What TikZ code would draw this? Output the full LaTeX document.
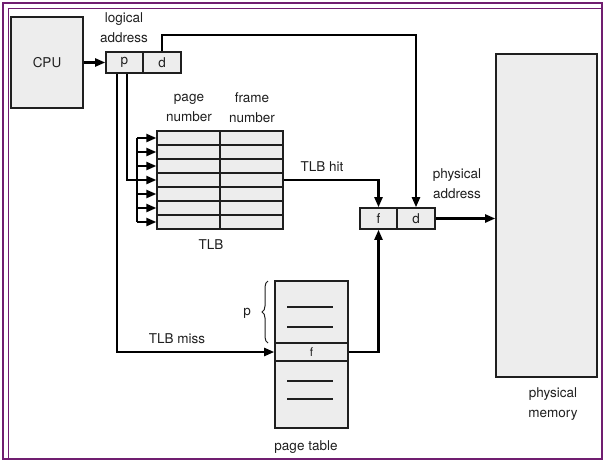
\documentclass[tikz,border=0pt]{standalone}
\usepackage{fontspec}
\setmainfont{TeX Gyre Heros}
\usetikzlibrary{arrows.meta,decorations.pathreplacing}
\definecolor{boxgray}{gray}{0.93}
\definecolor{framecol}{RGB}{112,30,112}
\definecolor{inkcol}{gray}{0.12}
\tikzset{
  lbl/.style={font=\fontsize{13.5}{20}\selectfont,text=inkcol,align=center,inner sep=0pt},
  cell/.style={draw=inkcol,fill=boxgray,line width=1.6pt,inner sep=0pt,minimum height=21pt,font=\fontsize{13.5}{20}\selectfont,text=inkcol},
  tlbrow/.style={draw=inkcol,fill=boxgray,line width=1.3pt,inner sep=0pt,minimum width=126pt,minimum height=14pt},
  ptcell/.style={draw=inkcol,fill=boxgray,line width=1.6pt,inner sep=0pt,minimum width=73pt,font=\fontsize{12}{14}\selectfont,text=inkcol},
  wire/.style={draw=black,line width=2.2pt},
  arr/.style={wire,-{Triangle[length=10pt,width=8pt]}},
}
\begin{document}
\begin{tikzpicture}[x=1pt,y=-1pt]
  \useasboundingbox (0,0) rectangle (604,461);
  % frame
  \draw[framecol,line width=2.5pt] (3,3) rectangle (602,459);
  \draw[framecol,line width=1pt] (8,459) -- (8,8) -- (602,8);
  % cpu and logical address
  \node[cell,minimum width=72pt,minimum height=91pt] (cpu) at (47,62.5) {CPU};
  \node[cell,minimum width=37pt] (lp) at (124.5,62.5) {p};
  \node[cell,minimum width=38pt] (ld) at (162,62.5) {d};
  \node[lbl] (laddr) at (124,28) {logical\\address};
  \draw[arr] (cpu.east) -- (lp.west);
  % TLB
  \node[tlbrow] (t1) at (220,138) {};
  \node[tlbrow] (t2) at (220,152) {};
  \node[tlbrow] (t3) at (220,166) {};
  \node[tlbrow] (t4) at (220,180) {};
  \node[tlbrow] (t5) at (220,194) {};
  \node[tlbrow] (t6) at (220,208) {};
  \node[tlbrow] (t7) at (220,222) {};
  \draw[inkcol,line width=1.3pt] (t1.north) -- (t7.south);
  \node[lbl] (pnum) at (189,108) {page\\number};
  \node[lbl] (fnum) at (252,108) {frame\\number};
  \node[lbl] (tlbl) at (211,245) {TLB};
  \coordinate (b1) at (137,138);
  \coordinate (b2) at (137,152);
  \coordinate (b3) at (137,166);
  \coordinate (b4) at (137,180);
  \coordinate (b5) at (137,194);
  \coordinate (b6) at (137,208);
  \coordinate (b7) at (137,222);
  \draw[wire] ([xshift=2.5pt]lp.south) |- (b4);
  \draw[wire] (b1) -- (b7);
  \draw[arr] (b1) -- (t1.west);
  \draw[arr] (b2) -- (t2.west);
  \draw[arr] (b3) -- (t3.west);
  \draw[arr] (b4) -- (t4.west);
  \draw[arr] (b5) -- (t5.west);
  \draw[arr] (b6) -- (t6.west);
  \draw[arr] (b7) -- (t7.west);
  % page table
  \node[ptcell,minimum height=62pt] (pt1) at (311.5,312) {};
  \node[ptcell,minimum height=18pt] (pt2) at (311.5,352) {f};
  \node[ptcell,minimum height=67pt] (pt3) at (311.5,394.5) {};
  \draw[inkcol,line width=1.3pt] (287,307) -- (333,307);
  \draw[inkcol,line width=1.3pt] (287,327) -- (333,327);
  \draw[inkcol,line width=1.3pt] (287,381) -- (333,381);
  \draw[inkcol,line width=1.3pt] (287,399) -- (333,399);
  \draw[inkcol,line width=1pt,decorate,decoration={brace,amplitude=6pt}] (268,343) -- (268,281);
  \node[lbl] (plbl) at (247,313) {p};
  \node[lbl] (ptlbl) at (306,447) {page table};
  % physical address and memory
  \node[cell,minimum width=37pt] (pf) at (378.5,218.5) {f};
  \node[cell,minimum width=38pt] (pd) at (416,218.5) {d};
  \node[lbl] (paddr) at (457,184) {physical\\address};
  \node[cell,minimum width=101pt,minimum height=323pt] (mem) at (546.5,215.5) {};
  \node[lbl] (pmem) at (553,404) {physical\\memory};
  \coordinate (dtop) at (416,35);
  \draw[arr] (ld.north) |- (dtop) -- (pd.north);
  \draw[arr] (t4.east) -| (pf.north);
  \node[lbl] (hit) at (322,167) {TLB hit};
  \draw[arr] ([xshift=-7.5pt]lp.south) |- (pt2.west);
  \node[lbl] (miss) at (177,339) {TLB miss};
  \draw[arr] (pt2.east) -| (pf.south);
  \draw[arr] (pd.east) -- (pd.east -| mem.west);
\end{tikzpicture}
\end{document}
